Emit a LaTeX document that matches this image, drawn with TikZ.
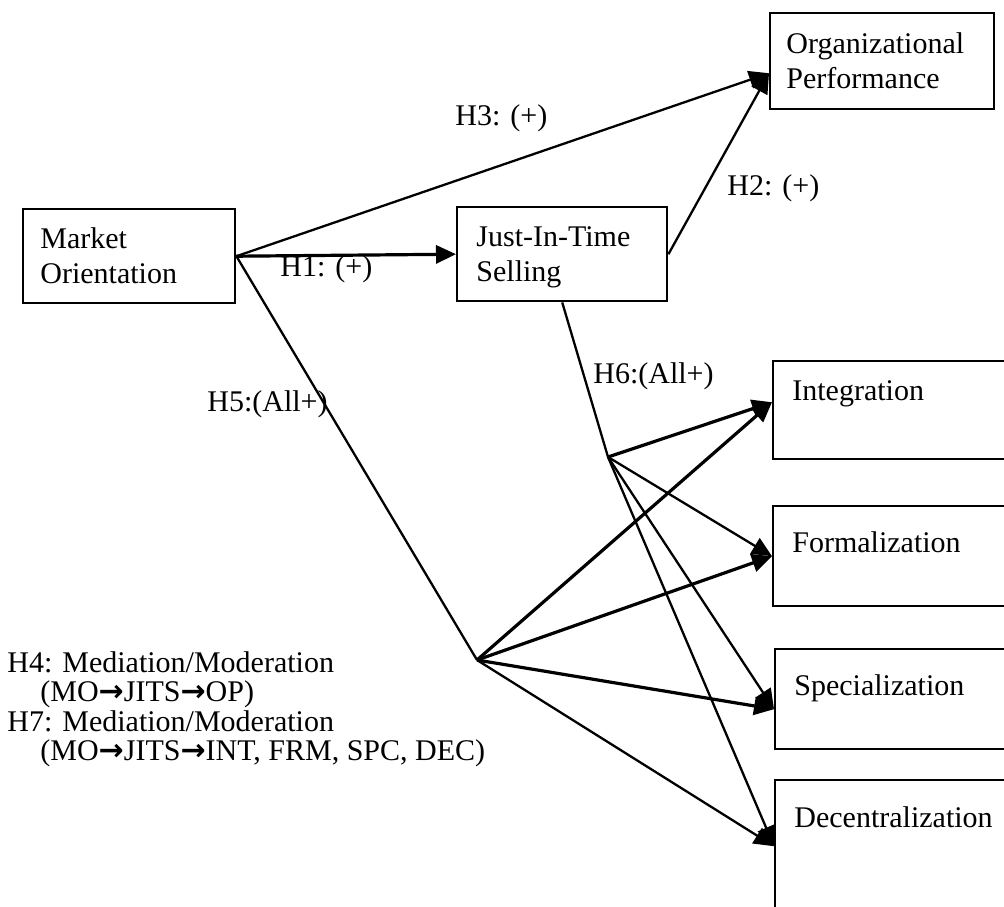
\documentclass[tikz,border=0pt]{standalone}
\usepackage{fontspec}
\setmainfont{Liberation Serif}
\newfontfamily\arrowfont{DejaVu Sans}
\usetikzlibrary{arrows.meta,calc}
\newcommand{\ra}{{\arrowfont\bfseries\fontsize{15}{15}\selectfont →}}

\begin{document}
\begin{tikzpicture}[x=0.5pt,y=-0.5pt,
  box/.style={draw, line width=1.2pt, rectangle, anchor=north west, inner sep=0pt},
  txt/.style={anchor=base west, align=left, inner sep=0pt,
              font=\fontsize{15}{17.5}\selectfont},
  hyp/.style={anchor=base west, inner sep=0pt, font=\fontsize{15}{17.5}\selectfont},
  note/.style={anchor=base west, inner sep=0pt, font=\fontsize{15}{17.5}\selectfont},
  link/.style={line width=1.15pt},
  thick link/.style={line width=1.6pt},
  tip/.style={-{Triangle[length=10pt,width=9pt]}}
]
\useasboundingbox (0,0) rectangle (1004,906);
\clip (0,0) rectangle (1004,906);

% construct boxes
\node[box, minimum width=106pt, minimum height=47pt] (mo)   at (22,208) {};
\node[box, minimum width=105pt, minimum height=47pt] (jits) at (456,206) {};
\node[box, minimum width=112pt, minimum height=48pt] (op)   at (769,12) {};
\node[box, minimum width=125pt, minimum height=49pt] (int)  at (772,360) {};
\node[box, minimum width=125pt, minimum height=50pt] (frm)  at (772,505) {};
\node[box, minimum width=125pt, minimum height=50pt] (spc)  at (774,648) {};
\node[box, minimum width=125pt, minimum height=70pt] (dec)  at (774,779) {};

% box captions (anchored on the baseline of the last line)
\node[txt] (moT)   at (40,283)  {Market\\Orientation};
\node[txt] (jitsT) at (476,281) {Just-In-Time\\Selling};
\node[txt] (opT)   at (786,88)  {Organizational\\Performance};
\node[txt] (intT)  at (792,400) {Integration};
\node[txt] (frmT)  at (792,552) {Formalization};
\node[txt] (spcT)  at (794,695) {Specialization};
\node[txt] (decT)  at (794,827) {Decentralization};

% branching points of the H5 and H6 paths
\coordinate (h5) at (477,660);
\coordinate (h6) at (608,457);

% direct effects
\draw[thick link, tip] (mo.east) -- (jits.west);
\draw[link, tip] (mo.east) -- ([yshift=-6pt]op.west);
\draw[link, tip] (jits.east) -- ([yshift=-6pt]op.west);

% H5: market orientation to structure
\draw[link] (mo.east) -- (h5);
\draw[thick link, tip] (h5) -- ([yshift=4pt]int.west);
\draw[thick link, tip] (h5) -- (frm.west);
\draw[thick link, tip] (h5) -- ([yshift=-5pt]spc.west);
\draw[link, tip] (h5) -- ([yshift=2pt]dec.west);

% H6: JIT selling to structure
\draw[link] (jits.south) -- (h6);
\draw[thick link, tip] (h6) -- ([yshift=4pt]int.west);
\draw[link, tip] (h6) -- (frm.west);
\draw[link, tip] (h6) -- ([yshift=-5pt]spc.west);
\draw[link, tip] (h6) -- ([yshift=2pt]dec.west);

% hypothesis labels
\node[hyp] (H1) at (280,276) {H1: (+)};
\node[hyp] (H2) at (727,195) {H2: (+)};
\node[hyp] (H3) at (455,125) {H3: (+)};
\node[hyp] (H5) at (207,411) {H5:(All+)};
\node[hyp] (H6) at (593,383) {H6:(All+)};

% mediation / moderation notes
\node[note] (H4)  at (7,672)  {H4: Mediation/Moderation};
\node[note] (H4b) at (40,701) {(MO\ra JITS\ra OP)};
\node[note] (H7)  at (7,731)  {H7: Mediation/Moderation};
\node[note] (H7b) at (40,760) {(MO\ra JITS\ra INT, FRM, SPC, DEC)};
\end{tikzpicture}
\end{document}
